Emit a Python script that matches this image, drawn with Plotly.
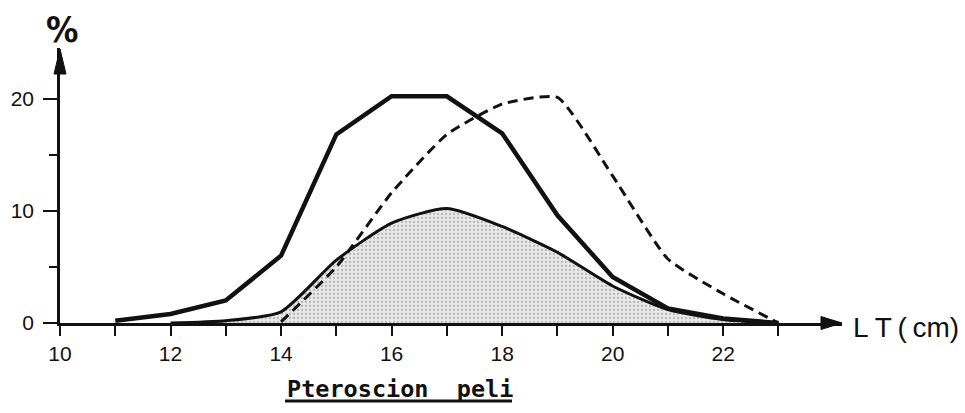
import plotly.graph_objects as go

# Length classes (cm) and percentage frequencies
lt_total = [11, 12, 13, 14, 15, 16, 17, 18, 19, 20, 21, 22, 23]
pct_total = [0.2, 0.8, 2.0, 6.0, 16.8, 20.2, 20.2, 16.9, 9.6, 4.1, 1.3, 0.4, 0.0]

lt_shaded = [12, 13, 14, 15, 16, 17, 18, 19, 20, 21, 22, 23]
pct_shaded = [0.0, 0.2, 1.0, 5.6, 8.9, 10.2, 8.6, 6.3, 3.3, 1.2, 0.3, 0.0]

lt_dashed = [14, 15, 16, 17, 18, 19, 20, 21, 22, 23]
pct_dashed = [0.1, 5.0, 11.6, 16.8, 19.5, 20.1, 13.1, 5.7, 2.6, 0.0]

x_ticks = list(range(10, 24))
x_ticktext = [str(v) if v % 2 == 0 else "" for v in x_ticks]
y_ticks = [0, 10, 20]
y_minor_ticks = [5, 15]

W, H = 965, 413
M_L, M_R, M_T, M_B = 60, 123, 48, 90
X_RANGE = [10, 24.15]
Y_RANGE = [0, 24.5]
PW, PH = W - M_L - M_R, H - M_T - M_B

INK = "#111111"


def px(xp):
    return (xp - M_L) / PW


def py(yp):
    return (H - M_B - yp) / PH


fig = go.Figure()

fig.add_trace(go.Scatter(
    x=lt_shaded, y=pct_shaded, mode="lines",
    line=dict(color=INK, width=3, shape="spline", smoothing=0.6),
    fill="tozeroy",
    fillcolor="#e2e2e2",
    fillpattern=dict(shape=".", fgcolor="#8a8a8a", bgcolor="#e8e8e8",
                     size=4, solidity=0.25),
    hoverinfo="skip",
))

fig.add_trace(go.Scatter(
    x=lt_dashed, y=pct_dashed, mode="lines",
    line=dict(color=INK, width=3, dash="10px,6px", shape="spline", smoothing=0.5),
    hoverinfo="skip",
))

fig.add_trace(go.Scatter(
    x=lt_total, y=pct_total, mode="lines",
    line=dict(color=INK, width=4.5),
    hoverinfo="skip",
))

axis_font = dict(family="Liberation Sans, Arial, sans-serif", size=21, color=INK)

fig.update_xaxes(
    range=X_RANGE, showgrid=False, zeroline=False,
    showline=True, linecolor=INK, linewidth=2.5,
    tickmode="array", tickvals=x_ticks, ticktext=x_ticktext,
    ticks="outside", ticklen=10, tickwidth=2, tickcolor=INK,
    tickfont=axis_font,
)
fig.update_yaxes(
    range=Y_RANGE, showgrid=False, zeroline=False,
    showline=True, linecolor=INK, linewidth=2.5,
    tickmode="array", tickvals=y_ticks,
    ticks="outside", ticklen=14, tickwidth=2, tickcolor=INK,
    tickfont=axis_font, ticklabelstandoff=5,
    minor=dict(tickmode="array", tickvals=y_minor_ticks, ticks="outside",
               ticklen=8, tickwidth=2, tickcolor=INK, showgrid=False),
)

# Arrowheads on both axes
x_tip, x_base, x_half = 842, 821, 6.5
y0 = H - M_B
ax_path = (f"M {px(x_tip)} {py(y0)} L {px(x_base)} {py(y0 - x_half)} "
           f"L {px(x_base)} {py(y0 + x_half)} Z")
y_tip, y_base, y_half = 49, 74, 6
ay_path = (f"M {px(M_L)} {py(y_tip)} L {px(M_L - y_half)} {py(y_base)} "
           f"L {px(M_L + y_half)} {py(y_base)} Z")
for p in (ax_path, ay_path):
    fig.add_shape(type="path", path=p, xref="paper", yref="paper",
                  fillcolor=INK, line=dict(color=INK, width=1))

# Title underline
fig.add_shape(type="line", xref="paper", yref="paper",
              x0=px(285), x1=px(512), y0=py(401), y1=py(401),
              line=dict(color=INK, width=3))

fig.add_annotation(
    text="<b>%</b>", xref="paper", yref="paper", x=px(62), y=py(29),
    xanchor="center", yanchor="middle", showarrow=False,
    font=dict(family="Liberation Sans Narrow, DejaVu Sans Condensed, sans-serif",
              size=36, color=INK),
)
fig.add_annotation(
    text="L T\u2009(\u2009cm)", xref="paper", yref="paper", x=px(851), y=py(328),
    xanchor="left", yanchor="middle", showarrow=False,
    font=dict(family="Liberation Sans, Arial, sans-serif", size=28, color=INK),
)
fig.add_annotation(
    text="<b>Pteroscion  peli</b>", xref="paper", yref="paper",
    x=px(285), y=py(389), xanchor="left", yanchor="middle", showarrow=False,
    font=dict(family="DejaVu Sans Mono, monospace", size=23.5, color=INK),
)

fig.update_layout(
    width=W, height=H,
    margin=dict(l=M_L, r=M_R, t=M_T, b=M_B, autoexpand=False),
    paper_bgcolor="white", plot_bgcolor="white",
    showlegend=False,
)

fig.write_html("out.html")
